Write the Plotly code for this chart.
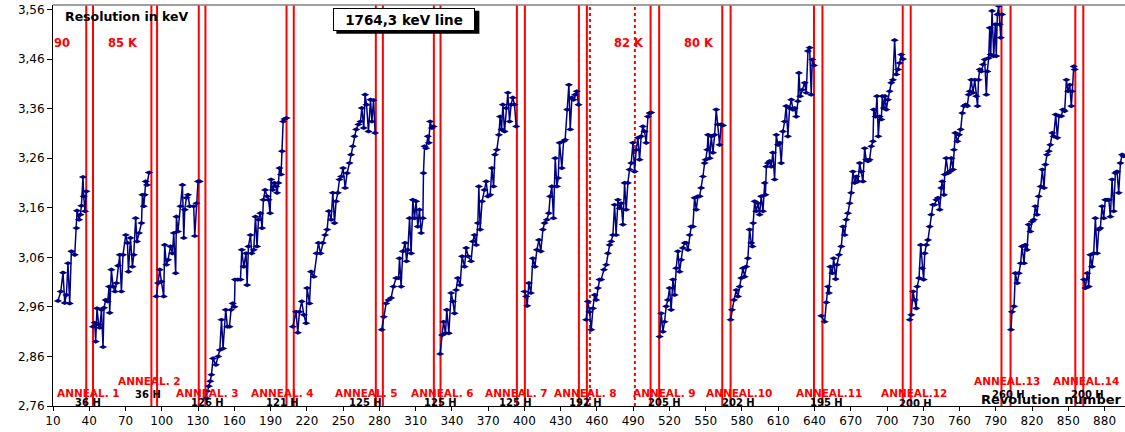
import plotly.graph_objects as go

# ---------------- data: revolution number / resolution (keV) per measuring period ----------------
rev_s1 = [14.1, 16.4, 18.3, 19.7, 21.1, 22.4, 23.8, 25.2, 28.0, 29.4, 29.9, 31.5, 32.7, 33.5, 34.8, 35.4, 36.5, 37.6]
res_s1 = [2.972, 2.991, 3.029, 2.968, 2.984, 3.048, 2.967, 3.072, 3.065, 3.119, 3.154, 3.136, 3.146, 3.164, 3.222, 3.183, 3.153, 3.193]

rev_s2 = [43.1, 44.5, 45.3, 46.4, 47.8, 48.7, 50.1, 51.4, 52.2, 53.6, 55.3, 56.4, 56.9, 58.3, 59.7, 61.3, 62.5, 63.8, 65.2, 66.6,
          67.9, 70.2, 71.6, 72.4, 74.1, 75.7, 76.8, 78.4, 79.5, 81.2, 83.2, 84.0, 85.1, 85.9, 86.7, 87.8, 89.4]
res_s2 = [2.920, 2.928, 2.890, 2.957, 2.924, 2.918, 2.954, 2.879, 2.958, 2.974, 2.971, 3.001, 2.948, 3.035, 3.001, 2.991, 3.008, 3.043, 3.065, 2.991,
          3.065, 3.105, 3.089, 3.031, 3.099, 3.041, 3.065, 3.139, 3.092, 3.109, 3.129, 3.186, 3.163, 3.186, 3.213, 3.206, 3.231]

rev_s3 = [95.5, 96.9, 98.3, 99.7, 101.6, 102.4, 103.8, 105.2, 107.2, 108.8, 109.9, 111.5, 112.1, 113.4, 115.4, 117.1, 118.2, 119.0, 120.4, 121.7,
          123.1, 126.4, 127.3, 128.7, 130.0, 131.4]
res_s3 = [2.981, 3.008, 3.035, 3.011, 2.981, 3.085, 3.045, 3.055, 3.082, 3.068, 3.109, 3.028, 3.142, 3.112, 3.163, 3.206, 3.099, 3.156, 3.180, 3.186,
          3.163, 3.163, 3.103, 3.169, 3.213, 3.213]

rev_s4 = [136.6, 137.6, 138.9, 140.1, 141.1, 142.4, 144.7, 146.6, 148.0, 149.4, 150.7, 152.9, 154.3, 156.0, 157.3, 158.7, 160.1, 160.6, 162.9, 165.1,
          166.2, 167.8, 169.7, 170.6, 171.7, 173.4, 174.4, 176.1, 177.5, 178.8, 180.0, 181.6, 183.0, 184.1, 185.5, 187.1, 188.3, 189.6, 190.4, 191.8,
          193.2, 194.6, 195.4, 196.5, 197.4, 198.7, 199.5, 200.4, 201.5, 203.2]
res_s4 = [2.776, 2.790, 2.800, 2.810, 2.823, 2.856, 2.843, 2.860, 2.873, 2.934, 2.876, 2.954, 2.920, 2.920, 2.954, 2.967, 2.960, 3.015, 3.015, 3.015,
          3.075, 3.041, 3.068, 3.004, 3.082, 3.105, 3.068, 3.075, 3.142, 3.082, 3.136, 3.149, 3.119, 3.176, 3.196, 3.183, 3.176, 3.149, 3.217, 3.196,
          3.210, 3.203, 3.190, 3.210, 3.240, 3.227, 3.274, 3.334, 3.339, 3.341]

rev_s5 = [208.4, 211.1, 212.5, 213.9, 215.8, 217.5, 219.4, 220.2, 222.2, 223.5, 225.8, 228.0, 229.6, 231.3, 233.2, 235.1, 236.8, 238.2, 240.1, 241.5,
          242.9, 244.2, 245.6, 247.0, 248.4, 250.0, 251.7, 253.3, 255.3, 256.6, 258.0, 259.4, 260.8, 262.7, 264.4, 265.5, 267.1, 268.2, 269.4, 271.0,
          272.7, 273.8, 275.2, 276.5]
res_s5 = [2.920, 2.950, 2.908, 2.950, 2.971, 2.944, 2.927, 2.998, 2.967, 3.031, 3.021, 3.068, 3.089, 3.068, 3.089, 3.105, 3.116, 3.153, 3.136, 3.190,
          3.129, 3.173, 3.190, 3.217, 3.223, 3.240, 3.200, 3.230, 3.250, 3.267, 3.284, 3.304, 3.318, 3.328, 3.334, 3.361, 3.321, 3.388, 3.368, 3.314,
          3.378, 3.334, 3.377, 3.311]

rev_s6 = [282.0, 283.7, 285.6, 287.6, 289.7, 291.7, 293.9, 295.9, 296.7, 298.0, 299.4, 301.3, 302.5, 303.6, 305.0, 306.3, 307.7, 309.1, 310.4, 311.8,
          313.2, 314.6, 316.0, 316.5, 317.4, 318.7, 320.1, 320.9, 322.0, 323.4, 324.8]
res_s6 = [2.914, 2.940, 2.967, 2.974, 2.978, 3.001, 3.018, 3.018, 3.058, 3.001, 3.072, 3.089, 3.052, 3.075, 3.139, 3.068, 3.176, 3.139, 3.173, 3.122,
          3.156, 3.109, 3.139, 3.230, 3.284, 3.280, 3.304, 3.291, 3.334, 3.321, 3.324]

rev_s7 = [330.3, 331.9, 333.1, 334.7, 335.8, 337.5, 339.4, 340.8, 342.2, 343.5, 344.9, 346.8, 348.5, 350.5, 351.8, 353.5, 355.9, 357.4, 358.7, 360.1,
          361.5, 362.3, 363.4, 365.0, 367.0, 368.4, 369.8, 371.7, 373.1, 374.5, 375.6, 377.2, 378.9, 379.9, 381.1, 382.2, 383.6, 384.9, 386.3, 387.7,
          389.0, 390.4, 391.8, 393.2]
res_s7 = [2.865, 2.903, 2.930, 2.907, 2.954, 2.907, 2.988, 2.971, 2.947, 2.994, 3.018, 3.004, 3.062, 3.041, 3.079, 3.062, 3.052, 3.092, 3.105, 3.085,
          3.129, 3.203, 3.116, 3.173, 3.196, 3.213, 3.183, 3.186, 3.240, 3.203, 3.267, 3.277, 3.307, 3.344, 3.318, 3.368, 3.314, 3.361, 3.392, 3.334,
          3.368, 3.382, 3.368, 3.324]

rev_s8 = [400.1, 401.5, 402.3, 403.7, 405.4, 407.0, 408.7, 410.3, 412.0, 413.6, 415.3, 416.7, 418.6, 420.2, 421.3, 422.7, 424.1, 425.5, 426.9, 428.0,
          429.1, 431.0, 432.4, 433.7, 435.4, 436.8, 437.9, 439.3, 440.7, 442.0, 443.4, 444.8]
res_s8 = [2.991, 2.981, 2.962, 3.008, 2.988, 3.058, 3.041, 3.075, 3.095, 3.072, 3.116, 3.129, 3.136, 3.149, 3.183, 3.203, 3.139, 3.260, 3.203, 3.220,
          3.291, 3.240, 3.294, 3.297, 3.358, 3.408, 3.318, 3.382, 3.378, 3.388, 3.395, 3.368]

rev_s9 = [451.1, 452.5, 453.9, 455.3, 456.7, 458.1, 459.4, 460.8, 462.2, 463.5, 465.8, 467.7, 469.1, 470.5, 471.8, 473.2, 474.6, 475.9, 477.4, 478.8,
          480.1, 481.5, 482.9, 484.2, 485.6, 487.0, 488.4, 489.8, 491.2, 492.5, 493.9, 495.3, 496.6, 498.0, 499.4, 500.8, 502.2, 503.6, 504.9]
res_s9 = [2.934, 2.971, 2.950, 2.914, 2.957, 2.984, 2.974, 2.998, 3.015, 3.015, 3.035, 3.045, 3.068, 3.085, 3.092, 3.105, 3.166, 3.105, 3.176, 3.159,
          3.169, 3.126, 3.210, 3.156, 3.210, 3.237, 3.250, 3.291, 3.233, 3.277, 3.301, 3.257, 3.304, 3.324, 3.314, 3.291, 3.344, 3.351, 3.352]

rev_s10 = [511.9, 513.2, 514.6, 516.0, 517.3, 518.7, 520.1, 521.4, 522.9, 524.3, 525.6, 527.0, 528.4, 529.7, 531.1, 532.6, 533.9, 535.3, 536.7, 538.0,
           539.4, 540.8, 542.2, 543.6, 545.0, 546.3, 547.7, 549.1, 550.0, 551.3, 551.9, 553.3, 554.6, 556.0, 557.4, 558.7, 560.1, 561.5, 562.8, 564.3]
res_s10 = [2.900, 2.947, 2.910, 2.930, 2.961, 2.974, 2.998, 2.954, 3.015, 2.984, 3.038, 3.072, 3.031, 3.055, 3.079, 3.089, 3.089, 3.075, 3.105, 3.122,
           3.122, 3.180, 3.156, 3.183, 3.183, 3.200, 3.223, 3.250, 3.257, 3.277, 3.307, 3.260, 3.304, 3.271, 3.307, 3.358, 3.328, 3.287, 3.328, 3.326]

rev_s11 = [570.6, 571.7, 573.4, 575.3, 576.7, 578.1, 579.4, 580.8, 582.2, 583.5, 584.9, 586.3, 587.7, 588.7, 589.3, 590.5, 591.8, 593.2, 594.6, 595.9,
           597.4, 598.8, 599.4, 600.2, 601.5, 602.9, 604.2, 605.6, 607.0, 608.4, 609.8, 611.2, 612.5, 613.9, 615.3, 616.6, 618.0, 619.4, 620.8, 622.2,
           623.6, 624.9, 626.3, 627.1, 628.2, 629.9, 631.9, 633.2, 634.6, 636.0, 637.3, 638.2, 639.6]
res_s11 = [2.934, 2.954, 2.974, 2.994, 2.981, 3.001, 3.018, 3.038, 3.021, 3.041, 3.058, 3.116, 3.089, 3.082, 3.129, 3.173, 3.153, 3.169, 3.146, 3.183,
           3.153, 3.210, 3.186, 3.243, 3.250, 3.254, 3.243, 3.271, 3.217, 3.307, 3.287, 3.291, 3.250, 3.314, 3.334, 3.365, 3.304, 3.361, 3.378, 3.358,
           3.361, 3.344, 3.375, 3.432, 3.385, 3.398, 3.412, 3.392, 3.476, 3.483, 3.388, 3.459, 3.447]

rev_s12 = [645.6, 648.4, 649.8, 651.2, 652.0, 653.1, 654.7, 655.9, 657.5, 658.6, 660.3, 662.2, 663.6, 665.0, 666.3, 667.7, 669.1, 670.4, 671.8, 673.2,
           674.6, 676.0, 677.4, 678.7, 680.1, 681.5, 682.8, 684.2, 685.6, 687.0, 688.4, 689.0, 690.6, 691.7, 692.8, 693.9, 695.3, 696.1, 697.3, 698.3,
           699.4, 700.8, 702.2, 703.5, 704.9, 706.3, 707.7, 709.1, 710.5, 711.8, 713.2]
res_s12 = [2.942, 2.930, 2.969, 3.001, 2.988, 3.041, 3.028, 3.058, 3.016, 3.045, 3.065, 3.082, 3.122, 3.105, 3.136, 3.149, 3.169, 3.190, 3.233, 3.210,
           3.223, 3.213, 3.250, 3.233, 3.213, 3.280, 3.257, 3.254, 3.257, 3.284, 3.294, 3.358, 3.344, 3.385, 3.304, 3.344, 3.338, 3.385, 3.361, 3.385,
           3.358, 3.378, 3.395, 3.412, 3.418, 3.498, 3.429, 3.439, 3.452, 3.469, 3.460]

rev_s13 = [718.8, 720.1, 721.5, 722.9, 724.2, 725.0, 726.5, 727.9, 729.2, 730.3, 731.2, 732.5, 733.9, 735.3, 736.6, 738.0, 739.4, 740.8, 742.2, 743.6,
           744.9, 745.7, 747.1, 747.7, 749.0, 750.5, 751.9, 753.2, 754.6, 755.4, 756.5, 758.2, 759.6, 761.0, 762.3, 763.7, 765.1, 766.4, 767.6, 768.4,
           769.7, 771.1, 772.6, 773.9, 774.9, 775.7, 776.7, 778.0, 779.4, 780.8, 782.2, 783.0, 784.1, 785.0, 785.8, 786.9, 788.3, 789.6, 790.4, 791.3,
           792.4, 793.2, 794.1, 795.2]
res_s13 = [2.934, 2.944, 2.991, 2.974, 2.957, 3.001, 3.018, 3.085, 3.038, 3.015, 3.068, 3.085, 3.095, 3.122, 3.146, 3.166, 3.166, 3.176, 3.180, 3.156,
           3.200, 3.213, 3.186, 3.227, 3.260, 3.230, 3.233, 3.260, 3.237, 3.277, 3.311, 3.294, 3.307, 3.318, 3.351, 3.365, 3.368, 3.365, 3.388, 3.395,
           3.418, 3.392, 3.418, 3.385, 3.365, 3.418, 3.439, 3.435, 3.449, 3.459, 3.388, 3.435, 3.462, 3.523, 3.469, 3.557, 3.466, 3.530, 3.466, 3.550,
           3.567, 3.530, 3.503, 3.550]

rev_s14 = [802.6, 803.4, 805.1, 806.2, 807.8, 809.0, 810.6, 811.7, 813.4, 814.4, 815.8, 817.2, 818.6, 820.0, 821.4, 822.7, 824.1, 825.5, 827.2, 828.5,
           829.9, 831.0, 832.4, 833.8, 835.1, 836.8, 837.9, 839.6, 840.9, 842.3, 844.2, 845.6, 847.0, 848.4, 849.8, 851.2, 852.5, 853.3, 854.5, 855.3]
res_s14 = [2.914, 2.950, 2.961, 3.028, 3.008, 3.028, 3.048, 3.082, 3.048, 3.085, 3.075, 3.126, 3.112, 3.132, 3.136, 3.163, 3.146, 3.183, 3.203, 3.237,
           3.200, 3.247, 3.267, 3.274, 3.287, 3.311, 3.304, 3.348, 3.301, 3.345, 3.345, 3.358, 3.355, 3.418, 3.395, 3.408, 3.365, 3.395, 3.445, 3.439]

rev_s15 = [863.0, 864.1, 865.7, 866.9, 868.2, 869.6, 871.0, 872.4, 873.8, 875.2, 876.5, 877.9, 879.3, 880.6, 882.0, 883.5, 884.8, 886.2, 887.6, 888.9,
           890.3, 891.7, 893.1, 894.5, 895.9]
res_s15 = [3.015, 2.998, 3.028, 3.001, 3.065, 3.041, 3.068, 3.139, 3.068, 3.116, 3.119, 3.163, 3.139, 3.176, 3.176, 3.176, 3.142, 3.217, 3.153, 3.230,
           3.233, 3.190, 3.250, 3.267, 3.264]

# anneal periods (start / end revolution) and temperature-change markers
anneal_start = [37.5, 91.4, 130.6, 203.2, 277.1, 325.1, 393.8, 445.1, 504.4, 563.7, 639.6, 713.0, 794.7, 855.8]
anneal_end = [43.1, 96.1, 136.1, 209.2, 282.9, 330.6, 400.4, 451.7, 511.5, 570.6, 646.6, 719.6, 802.2, 862.4]
temp_change = [454.2, 491.4]

anneal_labels = ["ANNEAL. 1", "ANNEAL. 2", "ANNEAL. 3", "ANNEAL. 4", "ANNEAL. 5", "ANNEAL. 6", "ANNEAL. 7",
                 "ANNEAL. 8", "ANNEAL. 9", "ANNEAL.10", "ANNEAL.11", "ANNEAL.12", "ANNEAL.13", "ANNEAL.14"]
anneal_hours = ["36 H", "36 H", "126 H", "121 H", "125 H", "125 H", "125 H",
                "192 H", "205 H", "202 H", "195 H", "200 H", "260 H", "200 H"]
temp_labels = ["90", "85 K", "82 K", "80 K"]

x_ticks = list(range(10, 881, 30))
y_ticks = [2.76, 2.86, 2.96, 3.06, 3.16, 3.26, 3.36, 3.46, 3.56]
y_tick_text = ["2,76", "2,86", "2,96", "3,06", "3,16", "3,26", "3,36", "3,46", "3,56"]

# ---------------- layout positions (not data) ----------------
anneal_lab_x = [39.1, 89.6, 137.6, 199.7, 269.6, 332.1, 393.4, 450.9, 516.2, 577.9, 651.6, 722.3, 799.3, 864.7]
anneal_lab_y = [2.786, 2.810, 2.786, 2.786, 2.786, 2.786, 2.786, 2.786, 2.786, 2.786, 2.786, 2.786, 2.810, 2.810]
hours_lab_x = [39.1, 88.8, 137.6, 199.7, 268.4, 330.9, 393.0, 450.5, 515.8, 577.5, 649.9, 723.6, 800.5, 865.5]
hours_lab_y = [2.767, 2.784, 2.767, 2.767, 2.767, 2.767, 2.767, 2.767, 2.767, 2.767, 2.767, 2.766, 2.784, 2.784]
temp_lab_x = [17.6, 67.7, 486.9, 544.8]

segments = [(rev_s1, res_s1), (rev_s2, res_s2), (rev_s3, res_s3), (rev_s4, res_s4), (rev_s5, res_s5),
            (rev_s6, res_s6), (rev_s7, res_s7), (rev_s8, res_s8), (rev_s9, res_s9), (rev_s10, res_s10),
            (rev_s11, res_s11), (rev_s12, res_s12), (rev_s13, res_s13), (rev_s14, res_s14), (rev_s15, res_s15)]

xs, ys = [], []
for r, v in segments:
    xs += list(r) + [None]
    ys += list(v) + [None]

NAVY = "#000080"
RED = "#FF0000"
FONT = "DejaVu Sans"

fig = go.Figure()
fig.add_trace(go.Scatter(
    x=xs, y=ys, mode="lines+markers", connectgaps=False,
    line=dict(color=NAVY, width=1.5),
    marker=dict(symbol="diamond-wide", size=6, color=NAVY),
    hoverinfo="skip", showlegend=False))

shapes = []
for xv in anneal_start + anneal_end:
    shapes.append(dict(type="line", xref="x", yref="paper", x0=xv, x1=xv, y0=0, y1=1,
                       line=dict(color=RED, width=2), layer="below"))
for xv in temp_change:
    shapes.append(dict(type="line", xref="x", yref="paper", x0=xv, x1=xv, y0=0, y1=1,
                       line=dict(color=RED, width=2, dash="dot"), layer="below"))
# top border of the plot area
shapes.append(dict(type="line", xref="paper", yref="paper", x0=0, x1=1, y0=1, y1=1,
                   line=dict(color="#808080", width=1.5)))

TITLE_X, TITLE_Y = 300.7, 3.540
# drop shadow of the title box
shapes.append(dict(type="rect", xref="x", yref="y", xsizemode="pixel", ysizemode="pixel",
                   xanchor=TITLE_X, yanchor=TITLE_Y, x0=-68, x1=75, y0=-14.5, y1=8.5,
                   fillcolor="black", line=dict(width=0), layer="above"))

ann = []
for t, xv, yv in zip(anneal_labels, anneal_lab_x, anneal_lab_y):
    ann.append(dict(text=t, x=xv, y=yv, xref="x", yref="y", showarrow=False,
                    font=dict(family=FONT, size=10.5, color=RED, weight="bold")))
for t, xv, yv in zip(anneal_hours, hours_lab_x, hours_lab_y):
    ann.append(dict(text=t, x=xv, y=yv, xref="x", yref="y", showarrow=False,
                    font=dict(family=FONT, size=10, color="black", weight="bold")))
for t, xv in zip(temp_labels, temp_lab_x):
    ann.append(dict(text=t, x=xv, y=3.492, xref="x", yref="y", showarrow=False,
                    font=dict(family=FONT, size=11.5, color=RED, weight="bold")))
ann.append(dict(text="Resolution in keV", x=70.6, y=3.546, xref="x", yref="y", showarrow=False,
                font=dict(family=FONT, size=12.5, color="black", weight="bold")))
ann.append(dict(text="Revolution number", x=836.5, y=2.773, xref="x", yref="y", showarrow=False,
                font=dict(family=FONT, size=13, color="black", weight="bold")))
ann.append(dict(text="1764,3 keV line", x=TITLE_X, y=TITLE_Y, xref="x", yref="y", showarrow=False,
                width=138, height=19, bgcolor="white", bordercolor="black", borderwidth=1,
                font=dict(family=FONT, size=13.5, color="black", weight="bold")))

fig.update_layout(
    width=1125, height=432,
    margin=dict(l=53, r=0, t=5, b=26, autoexpand=False),
    paper_bgcolor="white", plot_bgcolor="white",
    shapes=shapes, annotations=ann, showlegend=False,
    xaxis=dict(range=[10, 896.9], tickvals=x_ticks, ticks="outside", ticklen=4, tickcolor="black",
               showline=True, linecolor="black", linewidth=1, showgrid=False, zeroline=False,
               automargin=False, tickfont=dict(family=FONT, size=12, color="black")),
    yaxis=dict(range=[2.76, 3.569], tickvals=y_ticks, ticktext=y_tick_text, ticks="outside", ticklen=5,
               tickcolor="black", showline=True, linecolor="black", linewidth=1, showgrid=False,
               zeroline=False, automargin=False, tickfont=dict(family=FONT, size=12, color="black")),
)

fig.write_html("out.html",
               config={"displayModeBar": False, "staticPlot": True},
               post_script="document.body.style.margin='0px';document.body.style.padding='0px';"
                           "document.body.style.overflow='hidden';")
